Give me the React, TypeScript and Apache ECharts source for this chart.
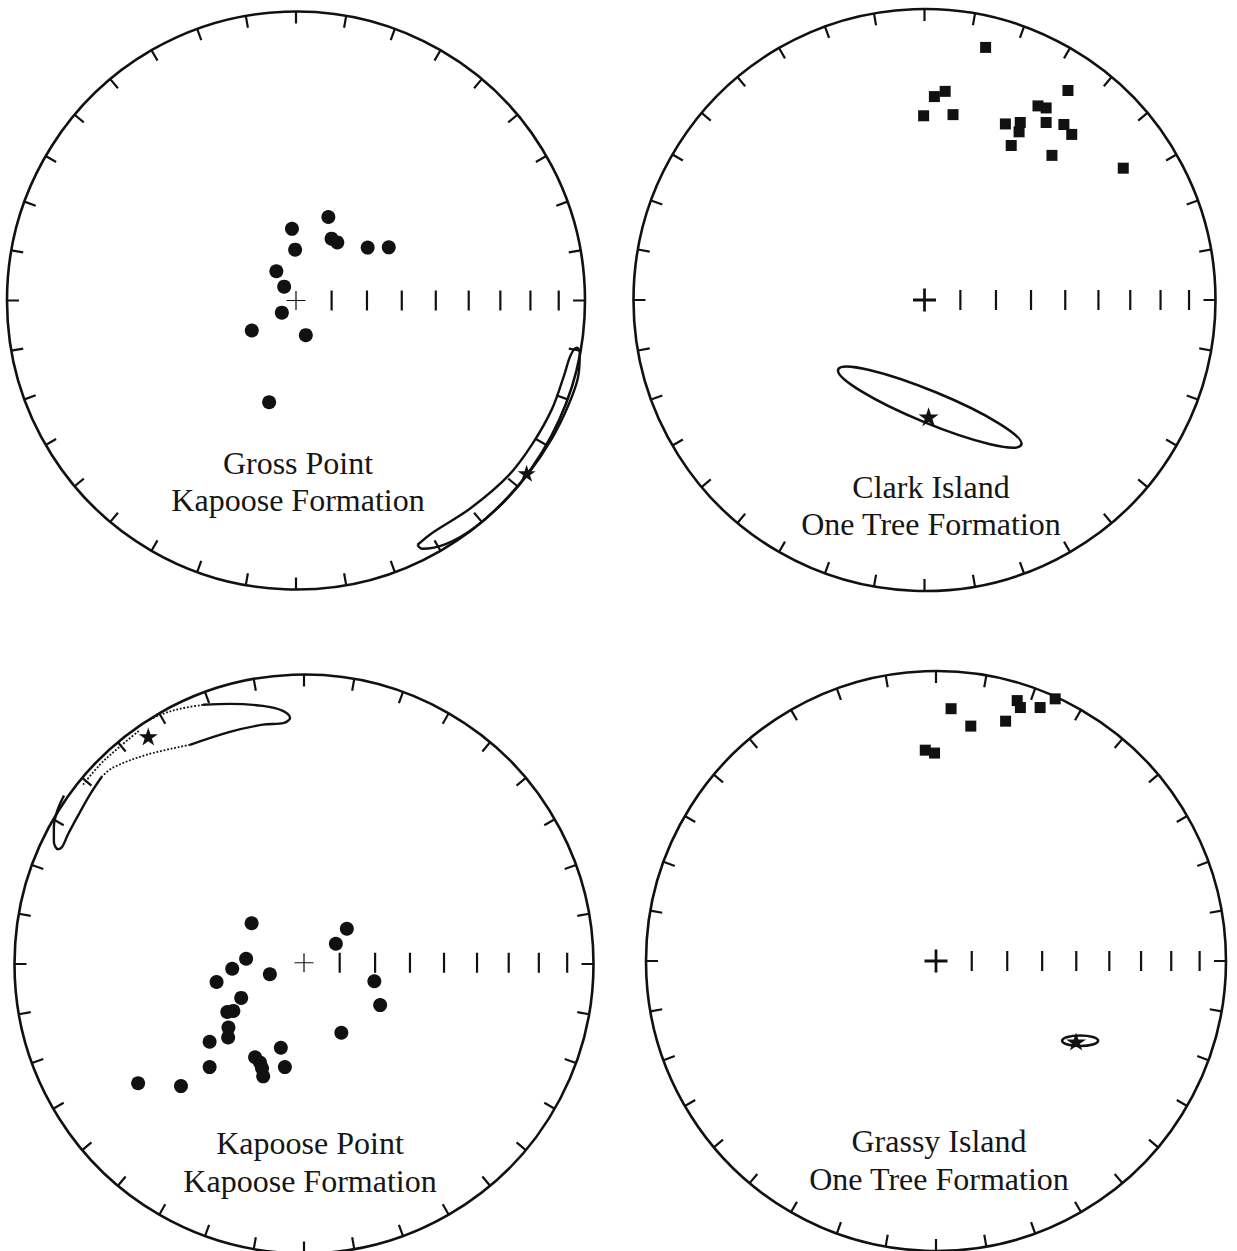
import React, { useEffect, useRef } from "react";
import * as echarts from "echarts";

// ---- panel titles ----
const panelTitles: string[][] = [
  ["Gross Point", "Kapoose Formation"],
  ["Clark Island", "One Tree Formation"],
  ["Kapoose Point", "Kapoose Formation"],
  ["Grassy Island", "One Tree Formation"],
];

// inclination ticks along the east radius (equal-area net)
const inclinationTicks = [80, 70, 60, 50, 40, 30, 20, 10];

// ---- Gross Point (equal-area x, y; unit = primitive radius) ----
const grossPointDirs: number[][] = [
  [-0.014, 0.248], [0.112, 0.289], [-0.003, 0.176], [0.123, 0.214],
  [0.143, 0.201], [0.248, 0.183], [0.321, 0.184], [-0.068, 0.101],
  [-0.041, 0.048], [-0.049, -0.042], [-0.153, -0.104], [0.034, -0.12],
  [-0.093, -0.352],
];
const grossPointMean: number[][] = [[0.798, -0.598]];
const grossPointOval: number[][] = [
  [0.42, -0.846], [0.437, -0.859], [0.518, -0.843], [0.614, -0.789],
  [0.723, -0.693], [0.805, -0.598], [0.887, -0.475], [0.941, -0.366],
  [0.975, -0.27], [0.982, -0.181], [0.972, -0.163], [0.95, -0.19],
  [0.928, -0.258], [0.886, -0.375], [0.818, -0.496], [0.735, -0.606],
  [0.605, -0.718], [0.47, -0.805], [0.42, -0.846],
];
const grossPointInner: number[][] = [
  [0.64, -0.77], [0.78, -0.628], [0.88, -0.478], [0.94, -0.34],
];

// ---- Clark Island ----
const clarkIslandDirs: number[][] = [
  [0.21, 0.868], [0.034, 0.699], [0.071, 0.717], [-0.003, 0.633],
  [0.098, 0.637], [0.493, 0.72], [0.39, 0.667], [0.418, 0.66],
  [0.278, 0.605], [0.329, 0.61], [0.325, 0.578], [0.418, 0.61],
  [0.479, 0.603], [0.506, 0.569], [0.298, 0.531], [0.438, 0.497],
  [0.683, 0.453],
];
const clarkIslandMean: number[][] = [[0.014, -0.401]];
// [x, y, semi-major, semi-minor, rotation deg]
const clarkIslandEllipse: number[][] = [[0.018, -0.368, 0.34, 0.055, -22.4]];

// ---- Kapoose Point ----
const kapoosePointDirs: number[][] = [
  [-0.181, 0.137], [0.148, 0.118], [0.11, 0.066], [-0.2, 0.014],
  [-0.248, -0.021], [-0.118, -0.04], [-0.302, -0.067], [-0.217, -0.122],
  [-0.244, -0.167], [-0.265, -0.171], [-0.261, -0.225], [-0.262, -0.259],
  [-0.326, -0.274], [0.243, -0.064], [0.263, -0.147], [0.129, -0.243],
  [-0.08, -0.295], [-0.066, -0.362], [-0.169, -0.328], [-0.152, -0.346],
  [-0.145, -0.366], [-0.141, -0.394], [-0.326, -0.362], [-0.573, -0.418],
  [-0.425, -0.428],
];
const kapoosePointMean: number[][] = [[-0.538, 0.785]];
const kapooseOvalSolidA: number[][] = [
  [-0.349, 0.895], [-0.256, 0.898], [-0.142, 0.891], [-0.073, 0.874],
  [-0.048, 0.85], [-0.069, 0.832], [-0.142, 0.826], [-0.256, 0.801],
  [-0.394, 0.756],
];
const kapooseOvalSolidB: number[][] = [
  [-0.698, 0.646], [-0.739, 0.584], [-0.774, 0.522], [-0.815, 0.446],
  [-0.836, 0.401], [-0.85, 0.394], [-0.864, 0.421], [-0.864, 0.47],
  [-0.853, 0.525], [-0.829, 0.58],
];
const kapooseOvalDottedA: number[][] = [
  [-0.349, 0.895], [-0.428, 0.881], [-0.497, 0.86], [-0.546, 0.836],
];
const kapooseOvalDottedB: number[][] = [
  [-0.394, 0.756], [-0.542, 0.722], [-0.66, 0.677], [-0.698, 0.646],
];
const kapooseOvalDottedC: number[][] = [
  [-0.763, 0.618], [-0.705, 0.687], [-0.636, 0.75], [-0.566, 0.808],
];

// ---- Grassy Island ----
const grassyIslandDirs: number[][] = [
  [0.052, 0.87], [0.12, 0.81], [0.24, 0.827], [0.28, 0.898],
  [0.291, 0.874], [0.359, 0.874], [0.411, 0.904], [-0.037, 0.727],
  [-0.005, 0.717],
];
const grassyIslandMean: number[][] = [[0.483, -0.278]];
const grassyIslandEllipse: number[][] = [[0.497, -0.275, 0.062, 0.018, 0]];

// ---- layout (pixels) ----
const LAYOUT = [
  { cx: 296, cy: 300.5, r: 289, plus: "thin", titleY: [463, 500], titleX: 298 },
  { cx: 924.5, cy: 300, r: 291, plus: "thick", titleY: [487, 524], titleX: 931 },
  { cx: 304, cy: 964, r: 289.5, plus: "thin", titleY: [1143, 1181], titleX: 310 },
  { cx: 936, cy: 961, r: 290, plus: "thick", titleY: [1141, 1179], titleX: 939 },
];

const INK = "#111111";
const STAR =
  "path://M50,0 L61.2,34.5 L97.6,34.5 L68.2,55.9 L79.4,90.5 L50,69.1 L20.6,90.5 L31.8,55.9 L2.4,34.5 L38.8,34.5 Z";
const PLUS_THIN = "path://M9.35,0 H10.65 V9.35 H20 V10.65 H10.65 V20 H9.35 V10.65 H0 V9.35 H9.35 Z";
const PLUS_THICK = "path://M8.8,0 H11.2 V8.8 H20 V11.2 H11.2 V20 H8.8 V11.2 H0 V8.8 H8.8 Z";

function equalArea(inc: number): number {
  return Math.SQRT2 * Math.sin(((90 - inc) / 2) * (Math.PI / 180));
}

function scatter(i: number, data: number[][], symbol: string, size: any, z = 5) {
  return {
    type: "scatter",
    xAxisIndex: i,
    yAxisIndex: i,
    data,
    symbol,
    symbolSize: size,
    itemStyle: { color: INK, opacity: 1 },
    silent: true,
    z,
  };
}

function line(i: number, data: number[][], dotted = false, width = 2.4) {
  return {
    type: "line",
    xAxisIndex: i,
    yAxisIndex: i,
    data,
    showSymbol: false,
    smooth: 0.35,
    silent: true,
    lineStyle: { color: INK, width: dotted ? 1.8 : width, type: dotted ? "dotted" : "solid", opacity: 1 },
    z: 3,
  };
}

function ellipse(i: number, data: number[][]) {
  return {
    type: "custom",
    xAxisIndex: i,
    yAxisIndex: i,
    data,
    silent: true,
    encode: { x: 0, y: 1 },
    z: 3,
    renderItem: (_p: any, api: any) => {
      const c = api.coord([api.value(0), api.value(1)]);
      const rx = api.size([api.value(2), 0])[0];
      const ry = api.size([0, api.value(3)])[1];
      return {
        type: "ellipse",
        x: c[0],
        y: c[1],
        rotation: (api.value(4) * Math.PI) / 180,
        shape: { cx: 0, cy: 0, rx, ry },
        style: { fill: "none", stroke: INK, lineWidth: 2.6 },
      };
    },
  };
}

export default function App() {
  const ref = useRef<HTMLDivElement>(null);

  useEffect(() => {
    if (!ref.current) return;
    const chart = echarts.init(ref.current, null, { renderer: "svg" });

    const tickData = inclinationTicks.map((inc) => [equalArea(inc), 0]);

    const series: any[] = [];
    LAYOUT.forEach((p, i) => {
      series.push(scatter(i, tickData, "rect", [2.2, 20], 2));
      series.push(
        scatter(i, [[0, 0]], p.plus === "thin" ? PLUS_THIN : PLUS_THICK, p.plus === "thin" ? 19 : 23, 2)
      );
    });

    // Gross Point
    series.push(line(0, grossPointOval));
    series.push(line(0, grossPointInner, false, 1.4));
    series.push(scatter(0, grossPointDirs, "circle", 14));
    series.push(scatter(0, grossPointMean, STAR, [18, 17], 6));
    // Clark Island
    series.push(ellipse(1, clarkIslandEllipse));
    series.push(scatter(1, clarkIslandDirs, "rect", 11));
    series.push(scatter(1, clarkIslandMean, STAR, [20, 19], 6));
    // Kapoose Point
    series.push(line(2, kapooseOvalSolidA));
    series.push(line(2, kapooseOvalSolidB));
    series.push(line(2, kapooseOvalDottedA, true));
    series.push(line(2, kapooseOvalDottedB, true));
    series.push(line(2, kapooseOvalDottedC, true));
    series.push(scatter(2, kapoosePointDirs, "circle", 14));
    series.push(scatter(2, kapoosePointMean, STAR, [19, 18], 6));
    // Grassy Island
    series.push(ellipse(3, grassyIslandEllipse));
    series.push(scatter(3, grassyIslandDirs, "rect", 11));
    series.push(scatter(3, grassyIslandMean, STAR, [20, 18], 6));

    const graphics: any[] = [];
    LAYOUT.forEach((p, i) => {
      panelTitles[i].forEach((t, k) => {
        graphics.push({
          type: "text",
          x: p.titleX,
          y: p.titleY[k],
          silent: true,
          style: {
            text: t,
            fontSize: 32,
            fontFamily: "Liberation Serif",
            fill: "#161616",
            align: "center",
            verticalAlign: "middle",
            textAlign: "center",
            textVerticalAlign: "middle",
          },
        });
      });
    });

    chart.setOption({
      animation: false,
      backgroundColor: "#ffffff",
      polar: LAYOUT.map((p) => ({ center: [p.cx, p.cy], radius: p.r })),
      angleAxis: LAYOUT.map((_, i) => ({
        polarIndex: i,
        type: "value",
        min: 0,
        max: 360,
        interval: 10,
        startAngle: 90,
        clockwise: true,
        axisLine: { show: true, lineStyle: { color: INK, width: 2.6 } },
        axisTick: { show: true, inside: true, length: 12, lineStyle: { color: INK, width: 2.2 } },
        axisLabel: { show: false },
        splitLine: { show: false },
        splitArea: { show: false },
        silent: true,
      })),
      radiusAxis: LAYOUT.map((_, i) => ({
        polarIndex: i,
        type: "value",
        min: 0,
        max: 1,
        axisLine: { show: false },
        axisTick: { show: false },
        axisLabel: { show: false },
        splitLine: { show: false },
        splitArea: { show: false },
      })),
      grid: LAYOUT.map((p) => ({
        left: p.cx - p.r,
        top: p.cy - p.r,
        width: 2 * p.r,
        height: 2 * p.r,
        containLabel: false,
      })),
      xAxis: LAYOUT.map((_, i) => ({ gridIndex: i, type: "value", min: -1, max: 1, show: false })),
      yAxis: LAYOUT.map((_, i) => ({ gridIndex: i, type: "value", min: -1, max: 1, show: false })),
      graphic: { elements: graphics },
      series,
    });

    return () => chart.dispose();
  }, []);

  return (
    <div
      ref={ref}
      style={{ position: "absolute", left: 0, top: 0, width: 1237, height: 1251, background: "#fff" }}
    />
  );
}
